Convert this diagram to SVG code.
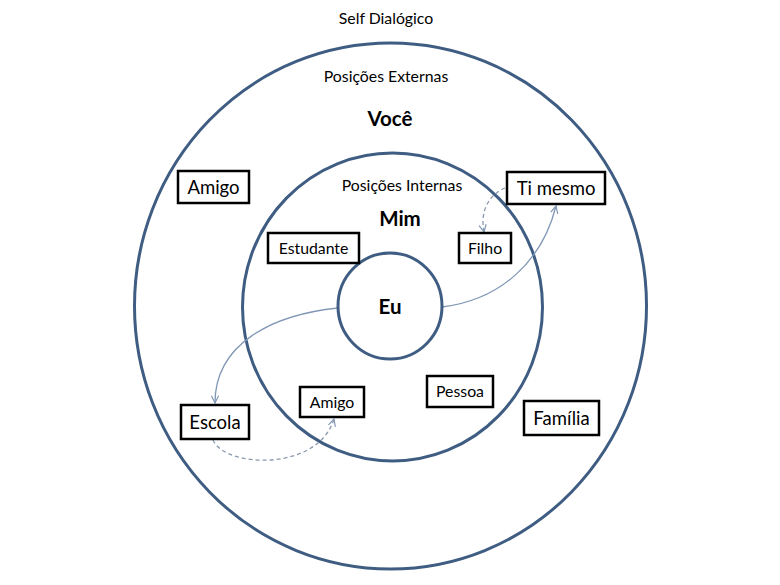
<svg xmlns="http://www.w3.org/2000/svg" width="780" height="585" viewBox="0 0 780 585">
<style>
.ring{fill:none;stroke:#3f5d82;stroke-width:3}
.box{fill:#fff;stroke:#000;stroke-width:2.5}
.t{font-family:Lato,"Open Sans",sans-serif;fill:#000;text-anchor:middle}
.s14{font-size:15.8px}
.s17{font-size:18.5px}
.b{font-size:20.5px;font-weight:bold}
.c{fill:none;stroke:#8197b6;stroke-width:1.3}
.d{stroke-dasharray:4 3;stroke:#8a9ab0}
</style>
<defs>
<marker id="ah" viewBox="0 0 10 10" refX="9" refY="5" markerWidth="9" markerHeight="9" orient="auto" markerUnits="userSpaceOnUse">
<path d="M1,1 L9,5 L1,9" fill="none" stroke="#8197b6" stroke-width="1.3"/>
</marker>
</defs>
<rect width="780" height="585" fill="#fff"/>
<text class="t s14" x="386" y="24">Self Dialógico</text>
<g id="outer">
<ellipse class="ring" cx="390.5" cy="306" rx="256" ry="263"/>
<text class="t s14" x="386" y="82">Posições Externas</text>
<text class="t b" x="390" y="126">Você</text>
</g>
<g id="inner">
<ellipse class="ring" cx="392.5" cy="307" rx="150" ry="154"/>
<text class="t s14" x="402" y="191">Posições Internas</text>
<text class="t b" x="400" y="226">Mim</text>
</g>
<g id="connectors">
<path class="c" d="M442,307 C500,300 542,262 556,206" marker-end="url(#ah)"/>
<path class="c" d="M338,308 C270,315 215,345 215,403" marker-end="url(#ah)"/>
<path class="c d" d="M505,188 C488,195 480,212 484,232" marker-end="url(#ah)"/>
<path class="c d" d="M213,440 C225,468 318,472 334,419" marker-end="url(#ah)"/>
</g>
<g id="eu">
<ellipse class="ring" cx="390" cy="306" rx="52" ry="53" fill="#fff"/>
<text class="t b" x="390" y="314">Eu</text>
</g>
<g id="amigo-ext"><rect class="box" x="178" y="171" width="71" height="32"/><text class="t s17" x="213.5" y="194">Amigo</text></g>
<g id="estudante"><rect class="box" x="268" y="233" width="91" height="30"/><text class="t s14" x="313.5" y="254">Estudante</text></g>
<g id="ti-mesmo"><rect class="box" x="507" y="172" width="98" height="32"/><text class="t s17" x="556" y="195">Ti mesmo</text></g>
<g id="filho"><rect class="box" x="459" y="233" width="52" height="30"/><text class="t s14" x="485" y="254">Filho</text></g>
<g id="escola"><rect class="box" x="181" y="405" width="68" height="34"/><text class="t s17" x="215" y="429">Escola</text></g>
<g id="amigo-int"><rect class="box" x="300" y="387" width="64" height="30"/><text class="t s14" x="332" y="408">Amigo</text></g>
<g id="pessoa"><rect class="box" x="427" y="376" width="66" height="31"/><text class="t s14" x="460" y="397">Pessoa</text></g>
<g id="familia"><rect class="box" x="524" y="401" width="75" height="34"/><text class="t s17" x="561.5" y="425">Família</text></g>
</svg>
